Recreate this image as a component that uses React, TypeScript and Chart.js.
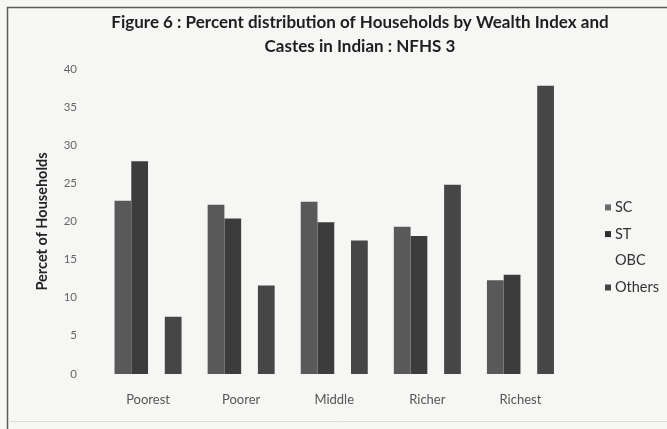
import React, { useEffect, useRef } from "react";
import { Chart, registerables } from "chart.js";

Chart.register(...registerables);

// Wealth quintiles and the share of each caste group's households in them (%)
const wealthGroups = ["Poorest", "Poorer", "Middle", "Richer", "Richest"];
const scShare = [22.7, 22.2, 22.6, 19.3, 12.3];
const stShare = [27.9, 20.4, 19.9, 18.1, 13.0];
const obcShare: (number | null)[] = [null, null, null, null, null];
const othersShare = [7.5, 11.6, 17.5, 24.8, 37.8];

const seriesNames = ["SC", "ST", "OBC", "Others"];
const yMin = 0;
const yMax = 40;
const yStep = 5;

const titleLines = [
  "Figure 6 : Percent distribution of Households by Wealth Index and",
  "Castes in Indian : NFHS 3",
];
const yAxisTitle = "Percet of Households";

const FONT = "Lato, 'Open Sans', sans-serif";

const pageBackground = {
  id: "pageBackground",
  beforeDraw(chart: Chart) {
    const { ctx, width, height } = chart;
    ctx.save();
    ctx.fillStyle = "#f6f6f4";
    ctx.fillRect(0, 0, width, height);
    // frame lines
    ctx.strokeStyle = "#5a5a5a";
    ctx.lineWidth = 1.5;
    ctx.beginPath();
    ctx.moveTo(7.5, height);
    ctx.lineTo(7.5, 7.5);
    ctx.lineTo(width, 7.5);
    ctx.stroke();
    ctx.strokeStyle = "#dcdcdc";
    ctx.lineWidth = 1;
    ctx.beginPath();
    ctx.moveTo(8, 421.5);
    ctx.lineTo(width, 421.5);
    ctx.stroke();
    ctx.restore();
  },
};

const figureTitle = {
  id: "figureTitle",
  afterDraw(chart: Chart) {
    const { ctx } = chart;
    ctx.save();
    ctx.font = `bold 17px ${FONT}`;
    ctx.fillStyle = "#1e1e1e";
    ctx.textAlign = "center";
    ctx.textBaseline = "middle";
    titleLines.forEach((line, i) => {
      ctx.fillText(line, 360, 23 + i * 23.5);
    });
    ctx.restore();
  },
};

const sideLegend = {
  id: "sideLegend",
  afterDraw(chart: Chart) {
    const { ctx, chartArea } = chart;
    const rowGap = 26.7;
    const firstY = (chartArea.top + chartArea.bottom) / 2 - 1.5 * rowGap + 26;
    const x = chartArea.right + 38;
    ctx.save();
    ctx.font = `14.5px ${FONT}`;
    ctx.textAlign = "left";
    ctx.textBaseline = "middle";
    chart.data.datasets.forEach((ds, i) => {
      const y = firstY + i * rowGap;
      ctx.fillStyle = (ds as any).legendColor as string;
      ctx.fillRect(x, y - 3, 6, 6);
      ctx.fillStyle = "#333333";
      ctx.fillText(ds.label as string, x + 10, y);
    });
    ctx.restore();
  },
};

export default function App() {
  const canvasRef = useRef<HTMLCanvasElement | null>(null);

  useEffect(() => {
    if (!canvasRef.current) return;
    const chart = new Chart(canvasRef.current, {
      type: "bar",
      data: {
        labels: wealthGroups,
        datasets: [
          { label: seriesNames[0], data: scShare, backgroundColor: "#595959", legendColor: "#6a6a6a" } as any,
          { label: seriesNames[1], data: stShare, backgroundColor: "#3c3c3c", legendColor: "#2e2e2e" } as any,
          { label: seriesNames[2], data: obcShare, backgroundColor: "#f6f6f4", legendColor: "#f6f6f4" } as any,
          { label: seriesNames[3], data: othersShare, backgroundColor: "#464646", legendColor: "#444444" } as any,
        ],
      },
      options: {
        responsive: true,
        maintainAspectRatio: false,
        animation: false,
        layout: { padding: { top: 69, left: 8, right: 100, bottom: 3.5 } },
        datasets: { bar: { barPercentage: 1, categoryPercentage: 0.72 } },
        plugins: {
          legend: { display: false },
          title: { display: false },
          tooltip: { enabled: false },
        },
        scales: {
          x: {
            grid: { display: false, drawTicks: false },
            border: { display: false },
            ticks: { padding: 18, color: "#555555", font: { family: FONT, size: 13 } },
          },
          y: {
            min: yMin,
            max: yMax,
            afterFit: (scale: any) => {
              scale.width = 93.5;
            },
            grid: { display: false, drawTicks: false },
            border: { display: false },
            ticks: { stepSize: yStep, padding: 24.5, color: "#666666", font: { family: FONT, size: 11.5 } },
            title: {
              display: true,
              text: yAxisTitle,
              color: "#222222",
              font: { family: FONT, size: 14.5, weight: "bold" },
              padding: { top: 26, bottom: 4 },
            },
          },
        },
      },
      plugins: [pageBackground, figureTitle, sideLegend],
    });
    return () => chart.destroy();
  }, []);

  return (
    <div style={{ position: "fixed", left: 0, top: 0, width: 667, height: 429 }}>
      <canvas ref={canvasRef} />
    </div>
  );
}
